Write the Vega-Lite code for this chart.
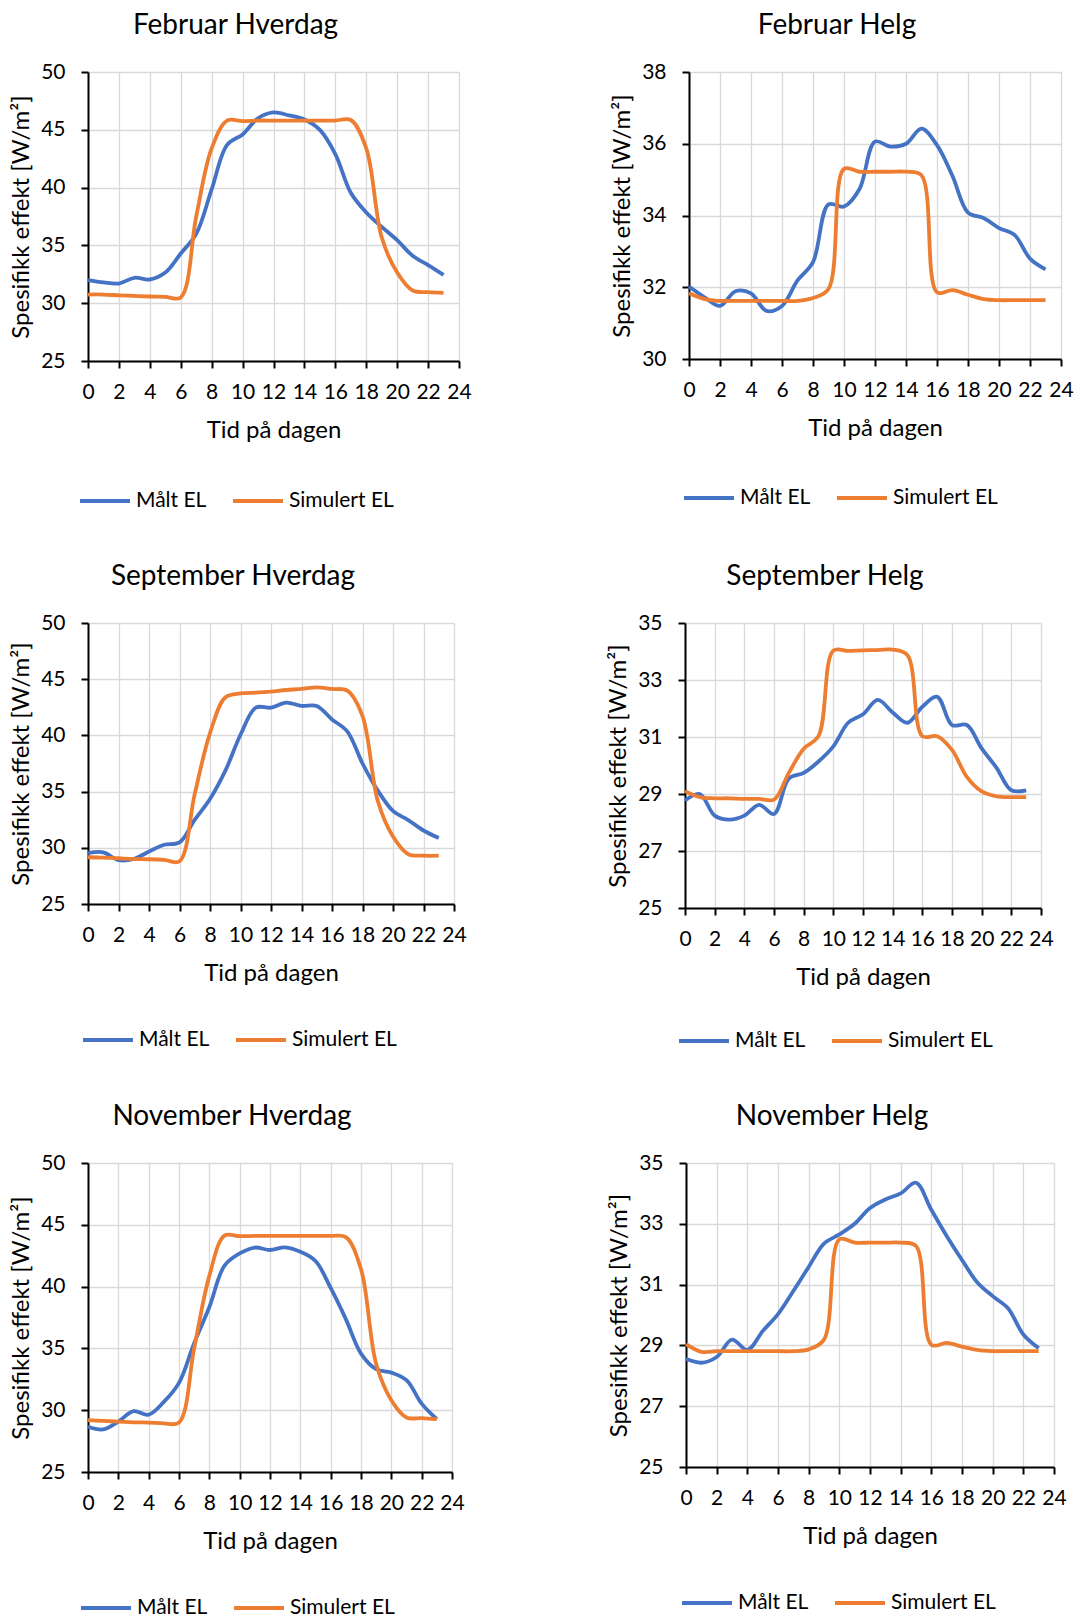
{
  "$schema": "https://vega.github.io/schema/vega-lite/v6.json",
  "background": "white",
  "padding": {"left": 9, "top": 12, "right": 0, "bottom": 0},
  "spacing": 52,
  "resolve": {"legend": {"color": "independent"}},
  "config": {
    "font": "Lato",
    "view": {"stroke": null},
    "axis": {
      "domainColor": "#000", "domainWidth": 2,
      "tickColor": "#000", "tickWidth": 2, "tickSize": 7,
      "gridColor": "#d9d9d9", "gridWidth": 1.3,
      "labelFont": "Lato", "labelFontSize": 21, "labelColor": "#000",
      "labelOverlap": false, "labelBound": false, "labelFlush": false,
      "titleFont": "Lato", "titleFontSize": 24, "titleFontWeight": "normal", "titleColor": "#000"
    },
    "axisX": {"labelPadding": 13, "titlePadding": 16},
    "axisY": {"labelPadding": 16, "titlePadding": 7},
    "title": {"font": "Lato", "fontSize": 28, "fontWeight": "normal", "color": "#000", "anchor": "middle", "frame": "group", "dx": -38, "offset": 21},
    "legend": {
      "orient": "none", "direction": "horizontal", "title": null,
      "symbolType": "stroke", "symbolSize": 2500, "symbolStrokeWidth": 4,
      "labelFont": "Lato", "labelFontSize": 21, "labelColor": "#000", "labelOffset": 4,
      "columnPadding": 18, "padding": 0
    },
    "line": {"interpolate": "catmull-rom", "strokeWidth": 3.8}
  },
  "datasets": {
    "feb_hverdag": [
      {"t":0,"s":"Målt EL","v":32.0},{"t":1,"s":"Målt EL","v":31.8},{"t":2,"s":"Målt EL","v":31.7},{"t":3,"s":"Målt EL","v":32.2},{"t":4,"s":"Målt EL","v":32.05},{"t":5,"s":"Målt EL","v":32.65},{"t":6,"s":"Målt EL","v":34.3},{"t":7,"s":"Målt EL","v":36.0},{"t":8,"s":"Målt EL","v":39.85},{"t":9,"s":"Målt EL","v":43.7},{"t":10,"s":"Målt EL","v":44.6},{"t":11,"s":"Målt EL","v":46.0},{"t":12,"s":"Målt EL","v":46.5},{"t":13,"s":"Målt EL","v":46.25},{"t":14,"s":"Målt EL","v":45.9},{"t":15,"s":"Målt EL","v":45.0},{"t":16,"s":"Målt EL","v":42.9},{"t":17,"s":"Målt EL","v":39.55},{"t":18,"s":"Målt EL","v":37.85},{"t":19,"s":"Målt EL","v":36.6},{"t":20,"s":"Målt EL","v":35.45},{"t":21,"s":"Målt EL","v":34.1},{"t":22,"s":"Målt EL","v":33.3},{"t":23,"s":"Målt EL","v":32.45},
      {"t":0,"s":"Simulert EL","v":30.75},{"t":1,"s":"Simulert EL","v":30.75},{"t":2,"s":"Simulert EL","v":30.68},{"t":3,"s":"Simulert EL","v":30.63},{"t":4,"s":"Simulert EL","v":30.58},{"t":5,"s":"Simulert EL","v":30.55},{"t":6,"s":"Simulert EL","v":30.5},{"t":7,"s":"Simulert EL","v":37.5},{"t":8,"s":"Simulert EL","v":43.4},{"t":9,"s":"Simulert EL","v":45.8},{"t":10,"s":"Simulert EL","v":45.75},{"t":11,"s":"Simulert EL","v":45.8},{"t":12,"s":"Simulert EL","v":45.8},{"t":13,"s":"Simulert EL","v":45.8},{"t":14,"s":"Simulert EL","v":45.8},{"t":15,"s":"Simulert EL","v":45.8},{"t":16,"s":"Simulert EL","v":45.8},{"t":17,"s":"Simulert EL","v":45.85},{"t":18,"s":"Simulert EL","v":43.4},{"t":19,"s":"Simulert EL","v":35.7},{"t":20,"s":"Simulert EL","v":32.65},{"t":21,"s":"Simulert EL","v":31.1},{"t":22,"s":"Simulert EL","v":30.95},{"t":23,"s":"Simulert EL","v":30.9}
    ],
    "feb_helg": [
      {"t":0,"s":"Målt EL","v":32.02},{"t":1,"s":"Målt EL","v":31.72},{"t":2,"s":"Målt EL","v":31.48},{"t":3,"s":"Målt EL","v":31.89},{"t":4,"s":"Målt EL","v":31.83},{"t":5,"s":"Målt EL","v":31.34},{"t":6,"s":"Målt EL","v":31.48},{"t":7,"s":"Målt EL","v":32.19},{"t":8,"s":"Målt EL","v":32.7},{"t":9,"s":"Målt EL","v":34.31},{"t":10,"s":"Målt EL","v":34.25},{"t":11,"s":"Målt EL","v":34.74},{"t":12,"s":"Målt EL","v":36.06},{"t":13,"s":"Målt EL","v":35.92},{"t":14,"s":"Målt EL","v":36.0},{"t":15,"s":"Målt EL","v":36.42},{"t":16,"s":"Målt EL","v":35.96},{"t":17,"s":"Målt EL","v":35.1},{"t":18,"s":"Målt EL","v":34.08},{"t":19,"s":"Målt EL","v":33.93},{"t":20,"s":"Målt EL","v":33.65},{"t":21,"s":"Målt EL","v":33.46},{"t":22,"s":"Målt EL","v":32.8},{"t":23,"s":"Målt EL","v":32.5},
      {"t":0,"s":"Simulert EL","v":31.83},{"t":1,"s":"Simulert EL","v":31.67},{"t":2,"s":"Simulert EL","v":31.62},{"t":3,"s":"Simulert EL","v":31.62},{"t":4,"s":"Simulert EL","v":31.62},{"t":5,"s":"Simulert EL","v":31.62},{"t":6,"s":"Simulert EL","v":31.62},{"t":7,"s":"Simulert EL","v":31.62},{"t":8,"s":"Simulert EL","v":31.7},{"t":9,"s":"Simulert EL","v":31.95},{"t":10,"s":"Simulert EL","v":35.3},{"t":11,"s":"Simulert EL","v":35.22},{"t":12,"s":"Simulert EL","v":35.22},{"t":13,"s":"Simulert EL","v":35.22},{"t":14,"s":"Simulert EL","v":35.22},{"t":15,"s":"Simulert EL","v":35.12},{"t":16,"s":"Simulert EL","v":31.86},{"t":17,"s":"Simulert EL","v":31.92},{"t":18,"s":"Simulert EL","v":31.79},{"t":19,"s":"Simulert EL","v":31.67},{"t":20,"s":"Simulert EL","v":31.64},{"t":21,"s":"Simulert EL","v":31.64},{"t":22,"s":"Simulert EL","v":31.64},{"t":23,"s":"Simulert EL","v":31.64}
    ],
    "sep_hverdag": [
      {"t":0,"s":"Målt EL","v":29.52},{"t":1,"s":"Målt EL","v":29.6},{"t":2,"s":"Målt EL","v":28.9},{"t":3,"s":"Målt EL","v":29.0},{"t":4,"s":"Målt EL","v":29.67},{"t":5,"s":"Målt EL","v":30.27},{"t":6,"s":"Målt EL","v":30.48},{"t":7,"s":"Målt EL","v":32.5},{"t":8,"s":"Målt EL","v":34.34},{"t":9,"s":"Målt EL","v":36.84},{"t":10,"s":"Målt EL","v":40.06},{"t":11,"s":"Målt EL","v":42.47},{"t":12,"s":"Målt EL","v":42.47},{"t":13,"s":"Målt EL","v":42.92},{"t":14,"s":"Målt EL","v":42.62},{"t":15,"s":"Målt EL","v":42.62},{"t":16,"s":"Målt EL","v":41.42},{"t":17,"s":"Målt EL","v":40.36},{"t":18,"s":"Målt EL","v":37.5},{"t":19,"s":"Målt EL","v":35.09},{"t":20,"s":"Målt EL","v":33.28},{"t":21,"s":"Målt EL","v":32.47},{"t":22,"s":"Målt EL","v":31.54},{"t":23,"s":"Målt EL","v":30.87},
      {"t":0,"s":"Simulert EL","v":29.16},{"t":1,"s":"Simulert EL","v":29.13},{"t":2,"s":"Simulert EL","v":29.07},{"t":3,"s":"Simulert EL","v":29.0},{"t":4,"s":"Simulert EL","v":28.98},{"t":5,"s":"Simulert EL","v":28.92},{"t":6,"s":"Simulert EL","v":28.8},{"t":7,"s":"Simulert EL","v":34.8},{"t":8,"s":"Simulert EL","v":40.2},{"t":9,"s":"Simulert EL","v":43.37},{"t":10,"s":"Simulert EL","v":43.73},{"t":11,"s":"Simulert EL","v":43.8},{"t":12,"s":"Simulert EL","v":43.9},{"t":13,"s":"Simulert EL","v":44.04},{"t":14,"s":"Simulert EL","v":44.13},{"t":15,"s":"Simulert EL","v":44.28},{"t":16,"s":"Simulert EL","v":44.13},{"t":17,"s":"Simulert EL","v":43.98},{"t":18,"s":"Simulert EL","v":41.72},{"t":19,"s":"Simulert EL","v":34.19},{"t":20,"s":"Simulert EL","v":31.0},{"t":21,"s":"Simulert EL","v":29.43},{"t":22,"s":"Simulert EL","v":29.3},{"t":23,"s":"Simulert EL","v":29.3}
    ],
    "sep_helg": [
      {"t":0,"s":"Målt EL","v":28.77},{"t":1,"s":"Målt EL","v":29.0},{"t":2,"s":"Målt EL","v":28.24},{"t":3,"s":"Målt EL","v":28.1},{"t":4,"s":"Målt EL","v":28.24},{"t":5,"s":"Målt EL","v":28.62},{"t":6,"s":"Målt EL","v":28.3},{"t":7,"s":"Målt EL","v":29.54},{"t":8,"s":"Målt EL","v":29.74},{"t":9,"s":"Målt EL","v":30.14},{"t":10,"s":"Målt EL","v":30.67},{"t":11,"s":"Målt EL","v":31.5},{"t":12,"s":"Målt EL","v":31.8},{"t":13,"s":"Målt EL","v":32.3},{"t":14,"s":"Målt EL","v":31.86},{"t":15,"s":"Målt EL","v":31.5},{"t":16,"s":"Målt EL","v":32.06},{"t":17,"s":"Målt EL","v":32.41},{"t":18,"s":"Målt EL","v":31.42},{"t":19,"s":"Målt EL","v":31.42},{"t":20,"s":"Målt EL","v":30.6},{"t":21,"s":"Målt EL","v":29.92},{"t":22,"s":"Målt EL","v":29.13},{"t":23,"s":"Målt EL","v":29.13},
      {"t":0,"s":"Simulert EL","v":29.1},{"t":1,"s":"Simulert EL","v":28.89},{"t":2,"s":"Simulert EL","v":28.85},{"t":3,"s":"Simulert EL","v":28.85},{"t":4,"s":"Simulert EL","v":28.83},{"t":5,"s":"Simulert EL","v":28.83},{"t":6,"s":"Simulert EL","v":28.8},{"t":7,"s":"Simulert EL","v":29.74},{"t":8,"s":"Simulert EL","v":30.59},{"t":9,"s":"Simulert EL","v":31.03},{"t":10,"s":"Simulert EL","v":34.03},{"t":11,"s":"Simulert EL","v":34.02},{"t":12,"s":"Simulert EL","v":34.04},{"t":13,"s":"Simulert EL","v":34.05},{"t":14,"s":"Simulert EL","v":34.07},{"t":15,"s":"Simulert EL","v":33.87},{"t":16,"s":"Simulert EL","v":31.03},{"t":17,"s":"Simulert EL","v":31.03},{"t":18,"s":"Simulert EL","v":30.55},{"t":19,"s":"Simulert EL","v":29.6},{"t":20,"s":"Simulert EL","v":29.09},{"t":21,"s":"Simulert EL","v":28.92},{"t":22,"s":"Simulert EL","v":28.89},{"t":23,"s":"Simulert EL","v":28.89}
    ],
    "nov_hverdag": [
      {"t":0,"s":"Målt EL","v":28.66},{"t":1,"s":"Målt EL","v":28.44},{"t":2,"s":"Målt EL","v":29.08},{"t":3,"s":"Målt EL","v":29.92},{"t":4,"s":"Målt EL","v":29.64},{"t":5,"s":"Målt EL","v":30.67},{"t":6,"s":"Målt EL","v":32.21},{"t":7,"s":"Målt EL","v":35.42},{"t":8,"s":"Målt EL","v":38.35},{"t":9,"s":"Målt EL","v":41.7},{"t":10,"s":"Målt EL","v":42.68},{"t":11,"s":"Målt EL","v":43.16},{"t":12,"s":"Målt EL","v":42.96},{"t":13,"s":"Målt EL","v":43.18},{"t":14,"s":"Målt EL","v":42.82},{"t":15,"s":"Målt EL","v":42.07},{"t":16,"s":"Målt EL","v":39.89},{"t":17,"s":"Målt EL","v":37.37},{"t":18,"s":"Målt EL","v":34.58},{"t":19,"s":"Målt EL","v":33.32},{"t":20,"s":"Målt EL","v":33.04},{"t":21,"s":"Målt EL","v":32.43},{"t":22,"s":"Målt EL","v":30.53},{"t":23,"s":"Målt EL","v":29.27},
      {"t":0,"s":"Simulert EL","v":29.19},{"t":1,"s":"Simulert EL","v":29.13},{"t":2,"s":"Simulert EL","v":29.08},{"t":3,"s":"Simulert EL","v":29.02},{"t":4,"s":"Simulert EL","v":29.0},{"t":5,"s":"Simulert EL","v":28.94},{"t":6,"s":"Simulert EL","v":29.0},{"t":7,"s":"Simulert EL","v":35.0},{"t":8,"s":"Simulert EL","v":40.87},{"t":9,"s":"Simulert EL","v":44.13},{"t":10,"s":"Simulert EL","v":44.08},{"t":11,"s":"Simulert EL","v":44.1},{"t":12,"s":"Simulert EL","v":44.1},{"t":13,"s":"Simulert EL","v":44.1},{"t":14,"s":"Simulert EL","v":44.1},{"t":15,"s":"Simulert EL","v":44.1},{"t":16,"s":"Simulert EL","v":44.1},{"t":17,"s":"Simulert EL","v":44.0},{"t":18,"s":"Simulert EL","v":41.42},{"t":19,"s":"Simulert EL","v":33.74},{"t":20,"s":"Simulert EL","v":30.81},{"t":21,"s":"Simulert EL","v":29.41},{"t":22,"s":"Simulert EL","v":29.36},{"t":23,"s":"Simulert EL","v":29.27}
    ],
    "nov_helg": [
      {"t":0,"s":"Målt EL","v":28.56},{"t":1,"s":"Målt EL","v":28.43},{"t":2,"s":"Målt EL","v":28.62},{"t":3,"s":"Målt EL","v":29.19},{"t":4,"s":"Målt EL","v":28.85},{"t":5,"s":"Målt EL","v":29.47},{"t":6,"s":"Målt EL","v":30.03},{"t":7,"s":"Målt EL","v":30.79},{"t":8,"s":"Målt EL","v":31.58},{"t":9,"s":"Målt EL","v":32.35},{"t":10,"s":"Målt EL","v":32.65},{"t":11,"s":"Målt EL","v":33.0},{"t":12,"s":"Målt EL","v":33.52},{"t":13,"s":"Målt EL","v":33.8},{"t":14,"s":"Målt EL","v":34.0},{"t":15,"s":"Målt EL","v":34.35},{"t":16,"s":"Målt EL","v":33.46},{"t":17,"s":"Målt EL","v":32.6},{"t":18,"s":"Målt EL","v":31.81},{"t":19,"s":"Målt EL","v":31.07},{"t":20,"s":"Målt EL","v":30.62},{"t":21,"s":"Målt EL","v":30.22},{"t":22,"s":"Målt EL","v":29.36},{"t":23,"s":"Målt EL","v":28.91},
      {"t":0,"s":"Simulert EL","v":29.04},{"t":1,"s":"Simulert EL","v":28.79},{"t":2,"s":"Simulert EL","v":28.81},{"t":3,"s":"Simulert EL","v":28.81},{"t":4,"s":"Simulert EL","v":28.81},{"t":5,"s":"Simulert EL","v":28.81},{"t":6,"s":"Simulert EL","v":28.81},{"t":7,"s":"Simulert EL","v":28.81},{"t":8,"s":"Simulert EL","v":28.87},{"t":9,"s":"Simulert EL","v":29.19},{"t":10,"s":"Simulert EL","v":32.49},{"t":11,"s":"Simulert EL","v":32.38},{"t":12,"s":"Simulert EL","v":32.38},{"t":13,"s":"Simulert EL","v":32.38},{"t":14,"s":"Simulert EL","v":32.38},{"t":15,"s":"Simulert EL","v":32.27},{"t":16,"s":"Simulert EL","v":29.02},{"t":17,"s":"Simulert EL","v":29.08},{"t":18,"s":"Simulert EL","v":28.96},{"t":19,"s":"Simulert EL","v":28.85},{"t":20,"s":"Simulert EL","v":28.81},{"t":21,"s":"Simulert EL","v":28.81},{"t":22,"s":"Simulert EL","v":28.81},{"t":23,"s":"Simulert EL","v":28.81}
    ]
  },
  "vconcat": [
    {
      "spacing": 138,
      "resolve": {"legend": {"color": "independent"}},
      "hconcat": [
        {
          "title": "Februar Hverdag", "width": 371, "height": 289,
          "data": {"name": "feb_hverdag"},
          "mark": "line",
          "encoding": {
            "x": {"field": "t", "type": "quantitative", "scale": {"domain": [0, 24], "nice": false}, "axis": {"values": [0,2,4,6,8,10,12,14,16,18,20,22,24], "title": "Tid på dagen"}},
            "y": {"field": "v", "type": "quantitative", "scale": {"domain": [25, 50], "nice": false, "zero": false}, "axis": {"values": [25,30,35,40,45,50], "title": "Spesifikk effekt [W/m²]"}},
            "color": {"field": "s", "type": "nominal", "scale": {"domain": ["Målt EL", "Simulert EL"], "range": ["#4472C4", "#ED7D31"]}, "legend": {"legendX": -10, "legendY": 402}}
          }
        },
        {
          "title": "Februar Helg", "width": 372, "height": 287,
          "data": {"name": "feb_helg"},
          "mark": "line",
          "encoding": {
            "x": {"field": "t", "type": "quantitative", "scale": {"domain": [0, 24], "nice": false}, "axis": {"values": [0,2,4,6,8,10,12,14,16,18,20,22,24], "title": "Tid på dagen"}},
            "y": {"field": "v", "type": "quantitative", "scale": {"domain": [30, 38], "nice": false, "zero": false}, "axis": {"values": [30,32,34,36,38], "title": "Spesifikk effekt [W/m²]"}},
            "color": {"field": "s", "type": "nominal", "scale": {"domain": ["Målt EL", "Simulert EL"], "range": ["#4472C4", "#ED7D31"]}, "legend": {"legendX": -7, "legendY": 399}}
          }
        }
      ]
    },
    {
      "spacing": 139,
      "resolve": {"legend": {"color": "independent"}},
      "hconcat": [
        {
          "title": "September Hverdag", "width": 366, "height": 281,
          "data": {"name": "sep_hverdag"},
          "mark": "line",
          "encoding": {
            "x": {"field": "t", "type": "quantitative", "scale": {"domain": [0, 24], "nice": false}, "axis": {"values": [0,2,4,6,8,10,12,14,16,18,20,22,24], "title": "Tid på dagen"}},
            "y": {"field": "v", "type": "quantitative", "scale": {"domain": [25, 50], "nice": false, "zero": false}, "axis": {"values": [25,30,35,40,45,50], "title": "Spesifikk effekt [W/m²]"}},
            "color": {"field": "s", "type": "nominal", "scale": {"domain": ["Målt EL", "Simulert EL"], "range": ["#4472C4", "#ED7D31"]}, "legend": {"legendX": -7, "legendY": 390}}
          }
        },
        {
          "title": "September Helg", "width": 356, "height": 285,
          "data": {"name": "sep_helg"},
          "mark": "line",
          "encoding": {
            "x": {"field": "t", "type": "quantitative", "scale": {"domain": [0, 24], "nice": false}, "axis": {"values": [0,2,4,6,8,10,12,14,16,18,20,22,24], "title": "Tid på dagen"}},
            "y": {"field": "v", "type": "quantitative", "scale": {"domain": [25, 35], "nice": false, "zero": false}, "axis": {"values": [25,27,29,31,33,35], "title": "Spesifikk effekt [W/m²]"}},
            "color": {"field": "s", "type": "nominal", "scale": {"domain": ["Målt EL", "Simulert EL"], "range": ["#4472C4", "#ED7D31"]}, "legend": {"legendX": -8, "legendY": 391}}
          }
        }
      ]
    },
    {
      "spacing": 142,
      "resolve": {"legend": {"color": "independent"}},
      "hconcat": [
        {
          "title": "November Hverdag", "width": 364, "height": 309,
          "data": {"name": "nov_hverdag"},
          "mark": "line",
          "encoding": {
            "x": {"field": "t", "type": "quantitative", "scale": {"domain": [0, 24], "nice": false}, "axis": {"values": [0,2,4,6,8,10,12,14,16,18,20,22,24], "title": "Tid på dagen"}},
            "y": {"field": "v", "type": "quantitative", "scale": {"domain": [25, 50], "nice": false, "zero": false}, "axis": {"values": [25,30,35,40,45,50], "title": "Spesifikk effekt [W/m²]"}},
            "color": {"field": "s", "type": "nominal", "scale": {"domain": ["Målt EL", "Simulert EL"], "range": ["#4472C4", "#ED7D31"]}, "legend": {"legendX": -9, "legendY": 418}}
          }
        },
        {
          "title": "November Helg", "width": 368, "height": 304,
          "data": {"name": "nov_helg"},
          "mark": "line",
          "encoding": {
            "x": {"field": "t", "type": "quantitative", "scale": {"domain": [0, 24], "nice": false}, "axis": {"values": [0,2,4,6,8,10,12,14,16,18,20,22,24], "title": "Tid på dagen"}},
            "y": {"field": "v", "type": "quantitative", "scale": {"domain": [25, 35], "nice": false, "zero": false}, "axis": {"values": [25,27,29,31,33,35], "title": "Spesifikk effekt [W/m²]"}},
            "color": {"field": "s", "type": "nominal", "scale": {"domain": ["Målt EL", "Simulert EL"], "range": ["#4472C4", "#ED7D31"]}, "legend": {"legendX": -6, "legendY": 413}}
          }
        }
      ]
    }
  ]
}
